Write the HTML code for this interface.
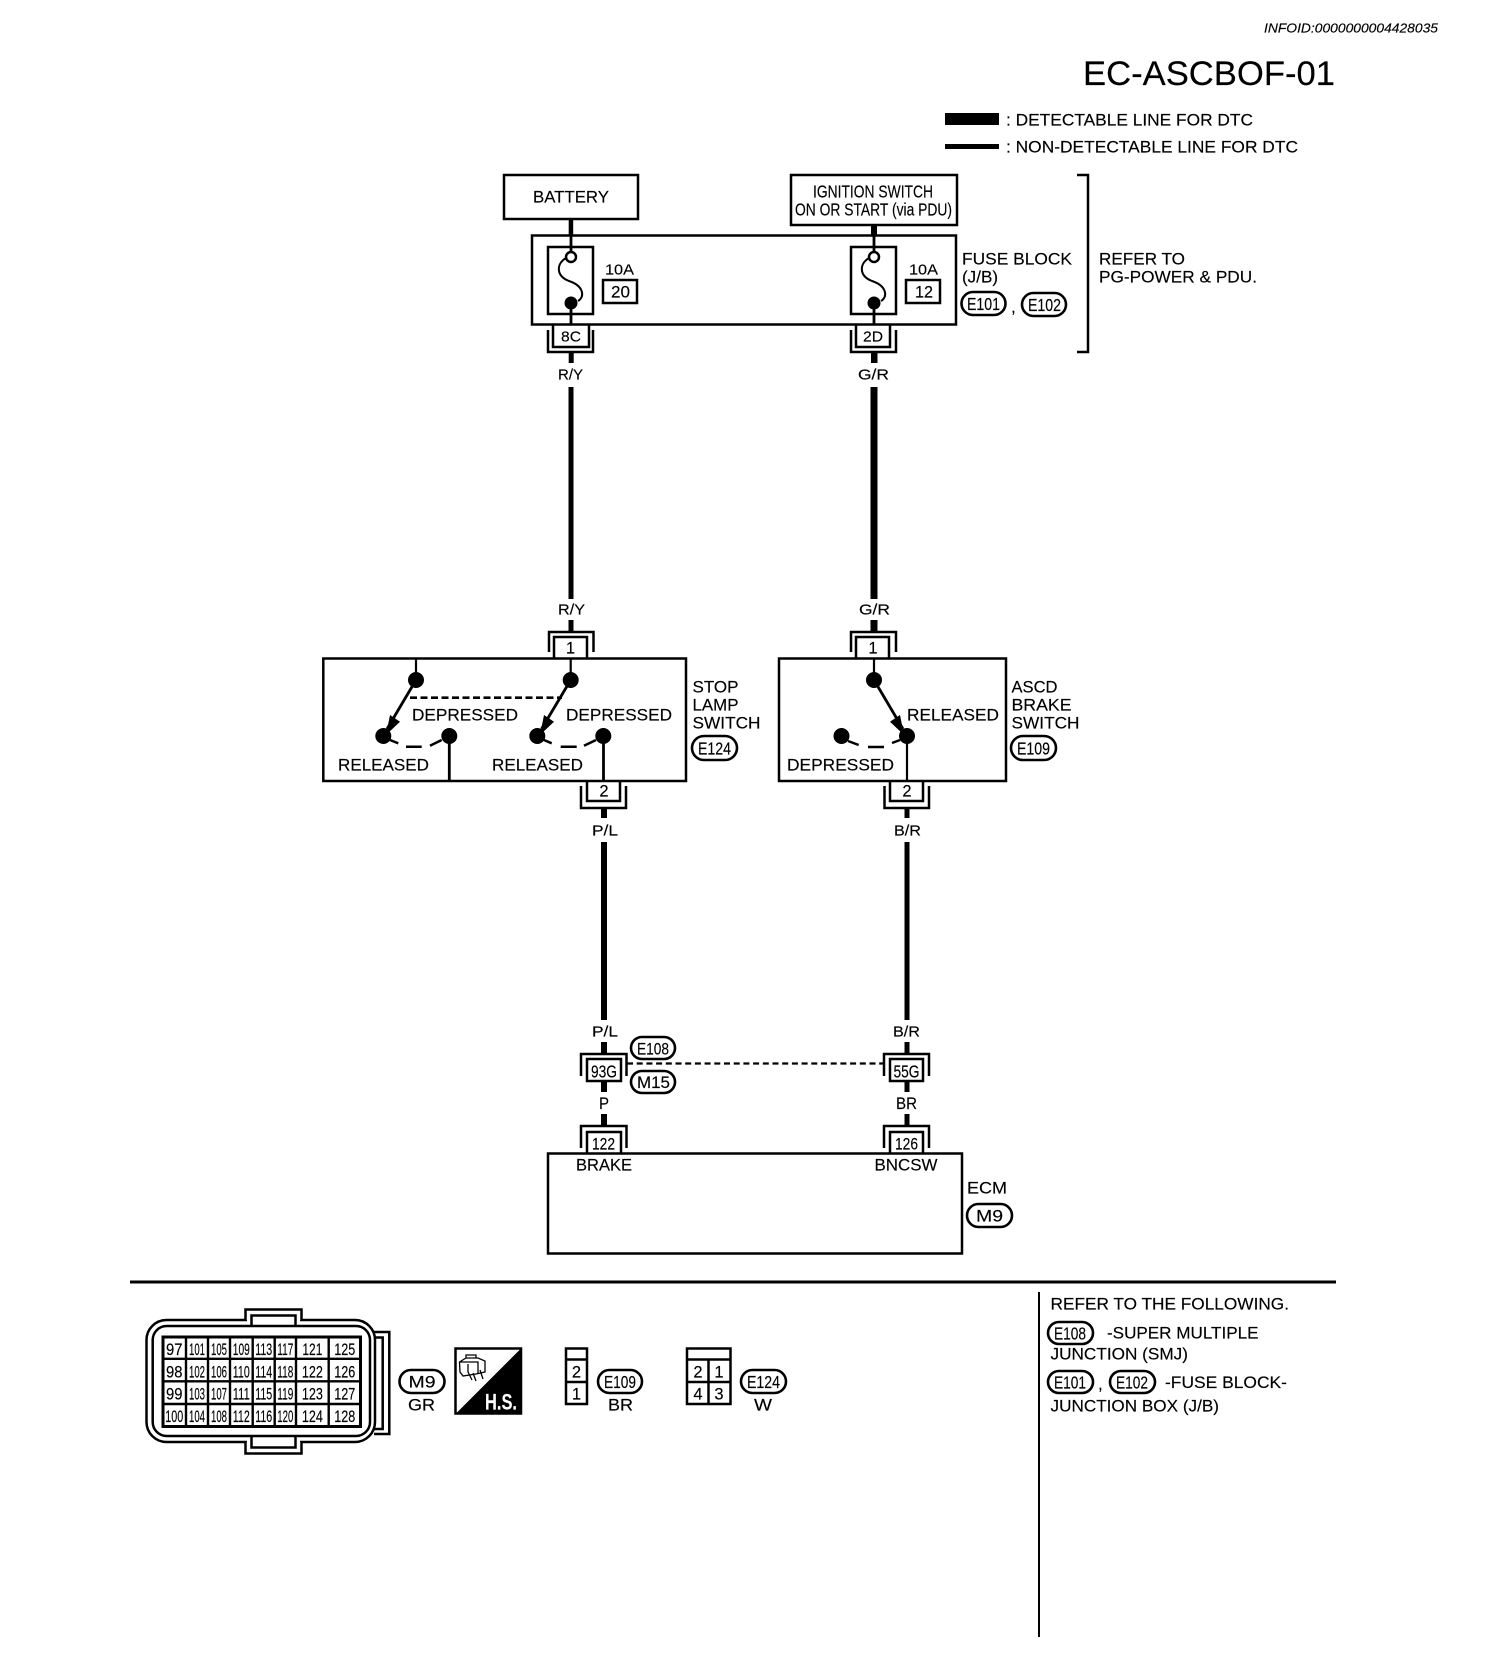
<!DOCTYPE html>
<html><head><meta charset="utf-8"><title>EC-ASCBOF-01</title>
<style>
html,body{margin:0;padding:0;background:#fff;width:1504px;height:1660px;overflow:hidden}
svg{display:block}
text{font-family:"Liberation Sans",sans-serif;font-size:17px;fill:#000;stroke:#000;stroke-width:.15;transform:translateY(-.7px)}
.s{font-size:15px}
.t{font-size:17.5px}
.d{font-size:16.5px}
.b{fill:#fff;stroke:#000;stroke-width:2.5}
.n{fill:none;stroke:#000;stroke-width:2.5}
.p{fill:#fff;stroke:#000;stroke-width:2.6}
.c text{font-size:16.5px;text-anchor:middle;transform:none}
</style></head><body>
<svg width="1504" height="1660" viewBox="0 0 1504 1660" xmlns="http://www.w3.org/2000/svg">
<rect width="1504" height="1660" fill="#fff"/>
<text x="1264" y="33" style="font-size:13px;font-style:italic" textLength="174" lengthAdjust="spacingAndGlyphs">INFOID:0000000004428035</text>
<text x="1083" y="85.500" style="font-size:34px" textLength="252" lengthAdjust="spacingAndGlyphs">EC-ASCBOF-01</text>
<rect x="945" y="113" width="54" height="12"/>
<rect x="945" y="144" width="54" height="5"/>
<text x="1006" y="126" textLength="247" lengthAdjust="spacingAndGlyphs">: DETECTABLE LINE FOR DTC</text>
<text x="1006" y="153" textLength="292" lengthAdjust="spacingAndGlyphs">: NON-DETECTABLE LINE FOR DTC</text>
<path class="n" d="M1077 175 H1088 V352 H1077"/>

<!-- sources -->
<rect class="b" x="504" y="175" width="134" height="44"/>
<text x="533" y="203" textLength="76" lengthAdjust="spacingAndGlyphs">BATTERY</text>
<rect class="b" x="791" y="175" width="166" height="50"/>
<text x="813" y="198" class="t" textLength="120" lengthAdjust="spacingAndGlyphs">IGNITION SWITCH</text>
<text x="795" y="216" class="t" textLength="157" lengthAdjust="spacingAndGlyphs">ON OR START (via PDU)</text>
<rect x="568.700" y="219" width="4.500" height="17"/>
<rect x="871" y="225" width="6" height="11"/>

<!-- fuse block -->
<rect class="b" x="532" y="235.500" width="424" height="89"/>
<rect class="n" x="548" y="247" width="45" height="67"/>
<rect class="n" x="851" y="247" width="45" height="67"/>
<path d="M571 235 V252 M571 303 V325 M874 235 V252 M874 303 V325" stroke="#000" stroke-width="2.800" fill="none"/>
<circle class="n" cx="571" cy="257" r="5"/><circle class="n" cx="874" cy="257" r="5"/>
<circle cx="571" cy="303" r="6.500"/><circle cx="874" cy="303" r="6.500"/>
<path class="n" style="stroke-width:2" d="M566 258 C556 264 556 276 569 281 C584 286 585 297 578 301"/>
<path class="n" style="stroke-width:2" d="M869 258 C859 264 859 276 872 281 C887 286 888 297 881 301"/>
<text x="605" y="275" class="s" textLength="29" lengthAdjust="spacingAndGlyphs">10A</text>
<rect class="n" x="603" y="280" width="34" height="23"/>
<text x="611" y="298" class="d" textLength="19" lengthAdjust="spacingAndGlyphs">20</text>
<text x="909" y="275" class="s" textLength="29" lengthAdjust="spacingAndGlyphs">10A</text>
<rect class="n" x="906" y="280" width="34" height="23"/>
<text x="915" y="298" class="d" textLength="18" lengthAdjust="spacingAndGlyphs">12</text>
<text x="962" y="265" textLength="110" lengthAdjust="spacingAndGlyphs">FUSE BLOCK</text>
<text x="962" y="283" textLength="36" lengthAdjust="spacingAndGlyphs">(J/B)</text>
<rect class="p" x="961.500" y="292" width="44" height="23" rx="11.500"/>
<text x="967" y="310.500" class="t" textLength="33" lengthAdjust="spacingAndGlyphs">E101</text>
<text x="1011" y="313">,</text>
<rect class="p" x="1022" y="293" width="44" height="23" rx="11.500"/>
<text x="1028" y="311.500" class="t" textLength="33" lengthAdjust="spacingAndGlyphs">E102</text>
<text x="1099" y="265" textLength="86" lengthAdjust="spacingAndGlyphs">REFER TO</text>
<text x="1099" y="283" textLength="158" lengthAdjust="spacingAndGlyphs">PG-POWER &amp; PDU.</text>

<!-- fuse connectors -->
<path class="n" d="M548 330 V352 H593 V330 M553 325 V347 H589 V325"/>
<path class="n" d="M851 330 V352 H896 V330 M856 325 V347 H890 V325"/>
<text x="561" y="342" class="s" textLength="20" lengthAdjust="spacingAndGlyphs">8C</text>
<text x="863" y="342" class="s" textLength="20" lengthAdjust="spacingAndGlyphs">2D</text>
<rect x="568.700" y="353" width="5" height="10"/>
<rect x="871" y="353" width="6.500" height="10"/>
<text x="558" y="380" class="s" textLength="25" lengthAdjust="spacingAndGlyphs">R/Y</text>
<text x="858" y="380" class="s" textLength="31" lengthAdjust="spacingAndGlyphs">G/R</text>
<rect x="568.500" y="387" width="5" height="212"/>
<rect x="870.500" y="387" width="7" height="212"/>
<text x="558" y="615" class="s" textLength="27" lengthAdjust="spacingAndGlyphs">R/Y</text>
<text x="859" y="615" class="s" textLength="31" lengthAdjust="spacingAndGlyphs">G/R</text>
<rect x="568.500" y="620" width="5" height="11"/>
<rect x="870.500" y="620" width="7" height="11"/>

<!-- switch boxes -->
<path class="n" d="M549 652 V632 H593.500 V652 M554 659 V637 H587 V659"/>
<path class="n" d="M851 652 V632 H896 V652 M856 659 V637 H889 V659"/>
<text x="570.500" y="654" class="d" text-anchor="middle">1</text>
<text x="873" y="654" class="d" text-anchor="middle">1</text>
<rect class="n" x="323.300" y="658.500" width="362.700" height="122.500"/>
<rect class="n" x="779" y="658.500" width="227" height="122.500"/>
<path d="M416 659 V680 M570.700 659 V680 M874 659 V680 M907 736 V781" stroke="#000" stroke-width="2.200" fill="none"/>
<path d="M449.300 736 V781 M603.500 736 V781" stroke="#000" stroke-width="2.800" fill="none"/>
<circle cx="416" cy="680" r="8"/><circle cx="570.700" cy="680" r="8"/><circle cx="874" cy="680" r="8"/>
<circle cx="383.300" cy="736" r="8"/><circle cx="449.300" cy="736" r="8"/>
<circle cx="537.300" cy="736" r="8"/><circle cx="603.300" cy="736" r="8"/>
<circle cx="841.500" cy="736" r="8"/><circle cx="907" cy="736" r="8"/>
<path d="M416 680 L387 729 M570.700 680 L541.500 729 M874 680 L903 729" stroke="#000" stroke-width="2.800" fill="none"/>
<polygon points="386,735 400,721.700 390,715"/>
<polygon points="540,735 554,721.700 544,715"/>
<polygon points="904,735 890,721.700 900,715"/>
<path d="M410 697.700 H562" stroke="#000" stroke-width="2.700" stroke-dasharray="7 3.500" fill="none"/>
<path class="n" d="M390 740 L398.300 743.300 M406 746.700 H421.700 M430 745.700 L441.700 740 M544 740 L551.700 743.300 M560.700 746.700 H576.700 M584 745.700 L596 740 M848 741 L858.700 745 M868 747 H884 M892 743 L900 740"/>
<text x="412" y="721" textLength="106" lengthAdjust="spacingAndGlyphs">DEPRESSED</text>
<text x="566" y="721" textLength="106" lengthAdjust="spacingAndGlyphs">DEPRESSED</text>
<text x="338" y="771" textLength="91" lengthAdjust="spacingAndGlyphs">RELEASED</text>
<text x="492" y="771" textLength="91" lengthAdjust="spacingAndGlyphs">RELEASED</text>
<text x="907" y="721" textLength="92" lengthAdjust="spacingAndGlyphs">RELEASED</text>
<text x="787" y="771" textLength="107" lengthAdjust="spacingAndGlyphs">DEPRESSED</text>
<text x="692.500" y="693" textLength="46" lengthAdjust="spacingAndGlyphs">STOP</text>
<text x="692.500" y="711" textLength="46" lengthAdjust="spacingAndGlyphs">LAMP</text>
<text x="692.500" y="729" textLength="68" lengthAdjust="spacingAndGlyphs">SWITCH</text>
<rect class="p" x="692" y="736" width="45" height="24" rx="12"/>
<text x="698" y="755" class="t" textLength="33" lengthAdjust="spacingAndGlyphs">E124</text>
<text x="1011.500" y="693" textLength="46" lengthAdjust="spacingAndGlyphs">ASCD</text>
<text x="1011.500" y="711" textLength="60" lengthAdjust="spacingAndGlyphs">BRAKE</text>
<text x="1011.500" y="729" textLength="68" lengthAdjust="spacingAndGlyphs">SWITCH</text>
<rect class="p" x="1011" y="736" width="45" height="24" rx="12"/>
<text x="1017" y="755" class="t" textLength="33" lengthAdjust="spacingAndGlyphs">E109</text>
<path class="n" d="M581 786 V808 H626 V786 M587 781 V801 H620 V781"/>
<path class="n" d="M884.500 786 V808 H929 V786 M890 781 V801 H923 V781"/>
<text x="604" y="797" class="d" text-anchor="middle">2</text>
<text x="907" y="797" class="d" text-anchor="middle">2</text>
<rect x="601" y="809" width="6" height="9"/>
<rect x="904.500" y="809" width="5" height="9"/>
<text x="592" y="836" class="s" textLength="26" lengthAdjust="spacingAndGlyphs">P/L</text>
<text x="894" y="836" class="s" textLength="27" lengthAdjust="spacingAndGlyphs">B/R</text>
<rect x="601" y="842" width="6" height="178"/>
<rect x="904.500" y="842" width="5" height="178"/>

<!-- junction -->
<text x="592" y="1037" class="s" textLength="26" lengthAdjust="spacingAndGlyphs">P/L</text>
<text x="893" y="1037" class="s" textLength="27" lengthAdjust="spacingAndGlyphs">B/R</text>
<rect x="601" y="1042" width="6" height="11"/>
<rect x="904.500" y="1042" width="5" height="11"/>
<path class="n" d="M581 1076 V1054 H626.500 V1076 M884 1076 V1054 H929 V1076"/>
<rect class="n" x="587" y="1059" width="34" height="22"/>
<rect class="n" x="890" y="1059" width="33" height="22"/>
<text x="591" y="1078" class="t" textLength="26" lengthAdjust="spacingAndGlyphs">93G</text>
<text x="893.500" y="1078" class="t" textLength="26" lengthAdjust="spacingAndGlyphs">55G</text>
<path d="M627 1063.500 H884" stroke="#000" stroke-width="2.200" stroke-dasharray="6 3.700" fill="none"/>
<rect class="p" x="631" y="1037" width="44" height="22" rx="11"/>
<text x="637" y="1055" class="d" textLength="32" lengthAdjust="spacingAndGlyphs">E108</text>
<rect class="p" x="631" y="1071" width="44" height="22" rx="11"/>
<text x="637" y="1088.500" class="d" textLength="33" lengthAdjust="spacingAndGlyphs">M15</text>
<rect x="601" y="1082" width="6" height="10"/>
<rect x="904.500" y="1082" width="5" height="10"/>
<text x="599" y="1109.500" textLength="10" lengthAdjust="spacingAndGlyphs">P</text>
<text x="896" y="1109.500" textLength="21" lengthAdjust="spacingAndGlyphs">BR</text>
<rect x="601" y="1114" width="6" height="11"/>
<rect x="904.500" y="1114" width="5" height="11"/>
<path class="n" d="M581 1148 V1126 H626.500 V1148 M587 1153 V1132 H621 V1153"/>
<path class="n" d="M884 1148 V1126 H929 V1148 M890 1153 V1132 H923 V1153"/>
<text x="592" y="1150" class="d" textLength="23" lengthAdjust="spacingAndGlyphs">122</text>
<text x="895" y="1150" class="d" textLength="23" lengthAdjust="spacingAndGlyphs">126</text>

<!-- ECM -->
<rect class="n" x="548" y="1153.500" width="414" height="100"/>
<text x="576" y="1171" textLength="56" lengthAdjust="spacingAndGlyphs">BRAKE</text>
<text x="874.500" y="1171" textLength="63" lengthAdjust="spacingAndGlyphs">BNCSW</text>
<text x="967" y="1194" textLength="40" lengthAdjust="spacingAndGlyphs">ECM</text>
<rect class="p" x="967" y="1204" width="45" height="23" rx="11.500"/>
<text x="976" y="1222" class="d" textLength="27" lengthAdjust="spacingAndGlyphs">M9</text>

<!-- dividers -->
<rect x="130" y="1280.500" width="1206" height="3"/>
<rect x="1038" y="1292" width="2" height="345"/>

<!-- ECM connector -->
<path class="n" d="M374 1332 H389.300 V1434 H374 M372 1337.500 H382.700 V1429 H372"/>
<rect class="b" x="146.500" y="1320" width="228.500" height="122" rx="20"/>
<rect class="b" x="152.700" y="1326" width="217.300" height="110" rx="14"/>
<path d="M245.500 1320 V1309.500 H301.500 V1320" fill="#fff" stroke="#000" stroke-width="2.500"/>
<rect x="247" y="1317" width="53" height="7.500" fill="#fff"/>
<path class="n" d="M251.500 1326 V1315.500 H295.500 V1326"/>
<path d="M245.500 1442 V1453.500 H301.500 V1442" fill="#fff" stroke="#000" stroke-width="2.500"/>
<rect x="247" y="1437.500" width="53" height="8" fill="#fff"/>
<path class="n" d="M251.500 1436 V1447.500 H295.500 V1436"/>
<rect class="b" x="163" y="1337" width="197.500" height="89.500" style="stroke-width:3"/>
<path d="M162 1358.800 H361 M162 1381.300 H361 M162 1404 H361 M186 1337 V1427 M208 1337 V1427 M230 1337 V1427 M252.700 1337 V1427 M274.700 1337 V1427 M296 1337 V1427 M328.700 1337 V1427" stroke="#000" stroke-width="2.400" fill="none"/>
<g class="c">
<text x="174.300" y="1355" textLength="16.500" lengthAdjust="spacingAndGlyphs">97</text><text x="197" y="1355" textLength="16" lengthAdjust="spacingAndGlyphs">101</text><text x="219" y="1355" textLength="16" lengthAdjust="spacingAndGlyphs">105</text><text x="241.300" y="1355" textLength="17" lengthAdjust="spacingAndGlyphs">109</text><text x="263.700" y="1355" textLength="17" lengthAdjust="spacingAndGlyphs">113</text><text x="285.300" y="1355" textLength="16" lengthAdjust="spacingAndGlyphs">117</text><text x="312.400" y="1355" textLength="20" lengthAdjust="spacingAndGlyphs">121</text><text x="344.800" y="1355" textLength="21" lengthAdjust="spacingAndGlyphs">125</text>
<text x="174.300" y="1377.500" textLength="16.500" lengthAdjust="spacingAndGlyphs">98</text><text x="197" y="1377.500" textLength="16" lengthAdjust="spacingAndGlyphs">102</text><text x="219" y="1377.500" textLength="16" lengthAdjust="spacingAndGlyphs">106</text><text x="241.300" y="1377.500" textLength="17" lengthAdjust="spacingAndGlyphs">110</text><text x="263.700" y="1377.500" textLength="17" lengthAdjust="spacingAndGlyphs">114</text><text x="285.300" y="1377.500" textLength="16" lengthAdjust="spacingAndGlyphs">118</text><text x="312.400" y="1377.500" textLength="21" lengthAdjust="spacingAndGlyphs">122</text><text x="344.800" y="1377.500" textLength="21" lengthAdjust="spacingAndGlyphs">126</text>
<text x="174.300" y="1399.500" textLength="16.500" lengthAdjust="spacingAndGlyphs">99</text><text x="197" y="1399.500" textLength="16" lengthAdjust="spacingAndGlyphs">103</text><text x="219" y="1399.500" textLength="16" lengthAdjust="spacingAndGlyphs">107</text><text x="241.300" y="1399.500" textLength="17" lengthAdjust="spacingAndGlyphs">111</text><text x="263.700" y="1399.500" textLength="17" lengthAdjust="spacingAndGlyphs">115</text><text x="285.300" y="1399.500" textLength="16" lengthAdjust="spacingAndGlyphs">119</text><text x="312.400" y="1399.500" textLength="21" lengthAdjust="spacingAndGlyphs">123</text><text x="344.800" y="1399.500" textLength="21" lengthAdjust="spacingAndGlyphs">127</text>
<text x="174.300" y="1422" textLength="18" lengthAdjust="spacingAndGlyphs">100</text><text x="197" y="1422" textLength="16" lengthAdjust="spacingAndGlyphs">104</text><text x="219" y="1422" textLength="16" lengthAdjust="spacingAndGlyphs">108</text><text x="241.300" y="1422" textLength="17" lengthAdjust="spacingAndGlyphs">112</text><text x="263.700" y="1422" textLength="17" lengthAdjust="spacingAndGlyphs">116</text><text x="285.300" y="1422" textLength="16" lengthAdjust="spacingAndGlyphs">120</text><text x="312.400" y="1422" textLength="21" lengthAdjust="spacingAndGlyphs">124</text><text x="344.800" y="1422" textLength="21" lengthAdjust="spacingAndGlyphs">128</text>
</g>
<rect class="p" x="399.500" y="1370" width="45" height="23" rx="11.500"/>
<text x="408.500" y="1388" class="d" textLength="27" lengthAdjust="spacingAndGlyphs">M9</text>
<text x="408" y="1411" textLength="27" lengthAdjust="spacingAndGlyphs">GR</text>

<!-- H.S. -->
<rect class="b" x="455.500" y="1348.500" width="65.500" height="65"/>
<polygon points="521,1348.500 521,1414 455.500,1414"/>
<text x="485" y="1410" style="font-size:22px;font-weight:bold;fill:#fff;stroke:#fff" textLength="32" lengthAdjust="spacingAndGlyphs">H.S.</text>
<path d="M466 1358 V1355 H476 V1358 M459.500 1362 L466 1358 H478 L485 1361 V1372 L476 1374 L463 1376 L460 1372 Z M459.500 1362 H478 V1374 M468 1364 V1372 L472 1380 M473 1373 L476 1381 M480 1370 L483 1379" fill="none" stroke="#000" stroke-width="1.300"/>

<!-- small connectors -->
<rect class="n" x="566" y="1348.500" width="21" height="55.500"/>
<path class="n" d="M566 1359.500 H587 M566 1382 H587"/>
<text x="576.500" y="1378" class="d" text-anchor="middle">2</text>
<text x="576.500" y="1400" class="d" text-anchor="middle">1</text>
<rect class="p" x="598" y="1370" width="44" height="23" rx="11.500"/>
<text x="604" y="1388.500" class="t" textLength="32" lengthAdjust="spacingAndGlyphs">E109</text>
<text x="608" y="1411" textLength="25" lengthAdjust="spacingAndGlyphs">BR</text>
<rect class="n" x="687" y="1348.500" width="43.500" height="55.500"/>
<path class="n" d="M687 1359.500 H730 M687 1382 H730 M708.500 1359.500 V1404"/>
<text x="698" y="1378" class="d" text-anchor="middle">2</text>
<text x="719" y="1378" class="d" text-anchor="middle">1</text>
<text x="698" y="1400" class="d" text-anchor="middle">4</text>
<text x="719" y="1400" class="d" text-anchor="middle">3</text>
<rect class="p" x="741" y="1370" width="45" height="23" rx="11.500"/>
<text x="747" y="1388.500" class="t" textLength="33" lengthAdjust="spacingAndGlyphs">E124</text>
<text x="754" y="1411" textLength="18" lengthAdjust="spacingAndGlyphs">W</text>

<!-- notes -->
<text x="1050.500" y="1310" textLength="238.500" lengthAdjust="spacingAndGlyphs">REFER TO THE FOLLOWING.</text>
<rect class="p" x="1048" y="1322" width="45" height="22" rx="11"/>
<text x="1054" y="1340" class="t" textLength="32" lengthAdjust="spacingAndGlyphs">E108</text>
<text x="1107" y="1339" textLength="151.500" lengthAdjust="spacingAndGlyphs">-SUPER MULTIPLE</text>
<text x="1050.500" y="1360" textLength="137.500" lengthAdjust="spacingAndGlyphs">JUNCTION (SMJ)</text>
<rect class="p" x="1048" y="1371" width="45" height="22" rx="11"/>
<text x="1054" y="1389" class="t" textLength="32" lengthAdjust="spacingAndGlyphs">E101</text>
<text x="1098" y="1390">,</text>
<rect class="p" x="1110" y="1371" width="45" height="22" rx="11"/>
<text x="1116" y="1389" class="t" textLength="32" lengthAdjust="spacingAndGlyphs">E102</text>
<text x="1165" y="1388.500" textLength="122" lengthAdjust="spacingAndGlyphs">-FUSE BLOCK-</text>
<text x="1050.500" y="1412" textLength="168.500" lengthAdjust="spacingAndGlyphs">JUNCTION BOX (J/B)</text>
</svg>
</body></html>
